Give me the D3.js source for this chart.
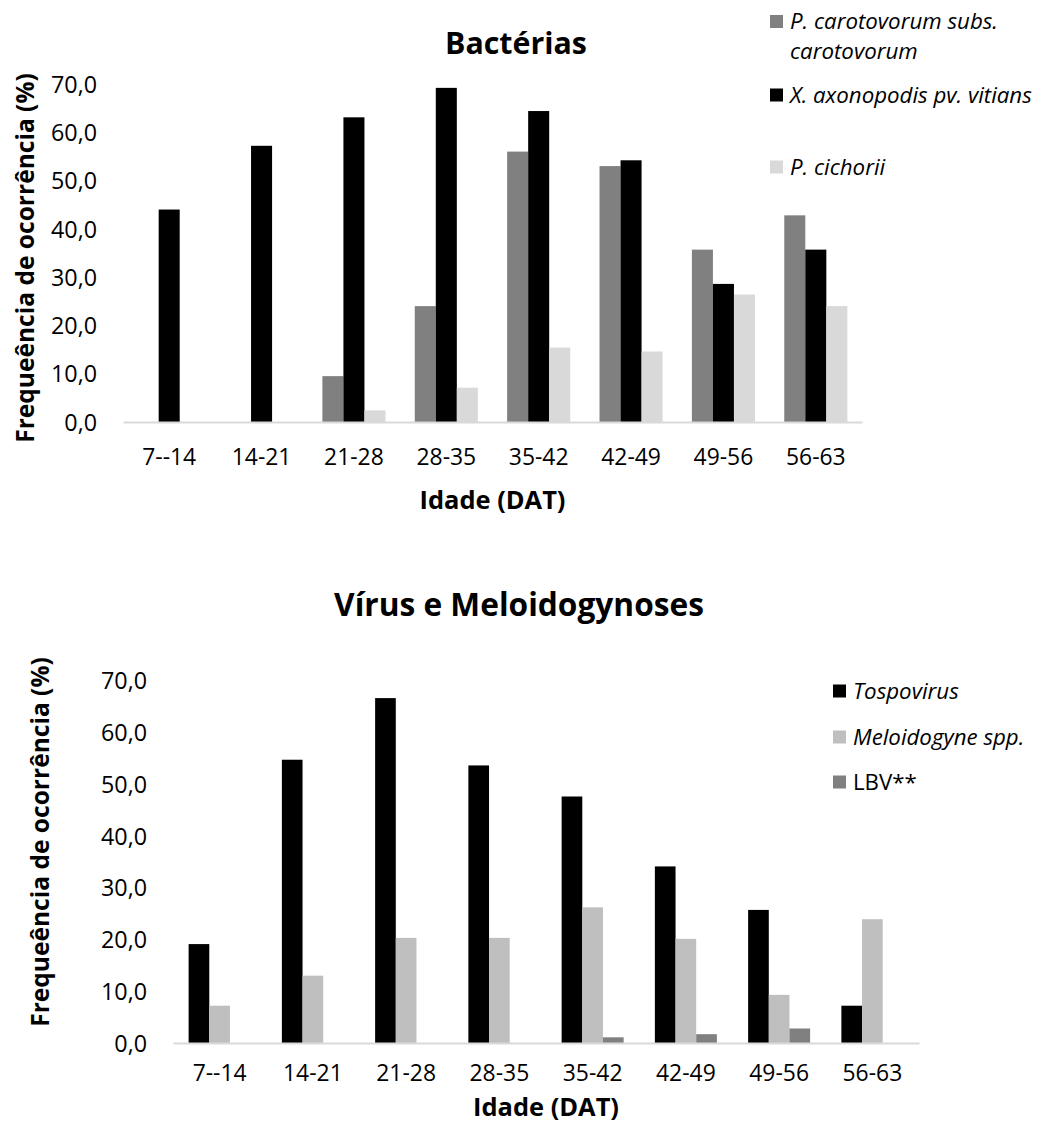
<!DOCTYPE html>
<html>
<head>
<meta charset="utf-8">
<script src="https://cdn.jsdelivr.net/npm/d3@7"></script>
<style>
  html, body { margin: 0; padding: 0; background: #fff; }
  svg { display: block; }
  text { font-family: "Open Sans", "Noto Sans", sans-serif; fill: #000; }
</style>
</head>
<body>
<svg id="chart" width="1042" height="1130"></svg>
<script>
// ---------- data ----------
const categories = ["7--14", "14-21", "21-28", "28-35", "35-42", "42-49", "49-56", "56-63"];
const yTicks = [0, 10, 20, 30, 40, 50, 60, 70];

// Chart 1: Bactérias
const bactSeriesNames = ["P. carotovorum subs. carotovorum", "X. axonopodis pv. vitians", "P. cichorii"];
const pCarotovorum = [0, 0, 9.5, 24.0, 56.0, 53.0, 35.7, 42.8];
const xAxonopodis = [44.0, 57.2, 63.1, 69.2, 64.4, 54.2, 28.6, 35.7];
const pCichorii = [0, 0, 2.4, 7.1, 15.4, 14.6, 26.4, 24.0];

// Chart 2: Vírus e Meloidogynoses
const virSeriesNames = ["Tospovirus", "Meloidogyne spp.", "LBV**"];
const tospovirus = [19.1, 54.7, 66.6, 53.6, 47.6, 34.1, 25.7, 7.2];
const meloidogyne = [7.2, 13.0, 20.3, 20.3, 26.2, 20.1, 9.3, 23.9];
const lbv = [0, 0, 0, 0, 1.1, 1.7, 2.8, 0];

// ---------- helpers ----------
const svg = d3.select("#chart");
const locale = d3.formatLocale({decimal: ",", thousands: ".", grouping: [3], currency: ["R$", ""]});
const fmt = locale.format(".1f");

function fitSize(text, family, weight, style, targetWidth) {
  const t = svg.append("text").attr("font-size", 20).attr("font-weight", weight)
    .attr("font-style", style).style("font-family", family).text(text);
  const w = t.node().getComputedTextLength();
  t.remove();
  return 20 * targetWidth / w;
}
const FAM = '"Open Sans", "Noto Sans", sans-serif';
const tickFS = fitSize("70,0", FAM, 400, "normal", 46);
const catFS = fitSize("7--14", FAM, 400, "normal", 54);
const ytitleFS = fitSize("Frequeência de ocorrência (%)", FAM, 700, "normal", 370);
const xtitleFS = fitSize("Idade (DAT)", FAM, 700, "normal", 146);
const titleFS1 = fitSize("Bactérias", FAM, 700, "normal", 142);
const titleFS2 = fitSize("Vírus e Meloidogynoses", FAM, 700, "normal", 370);
const legFS = fitSize("X. axonopodis pv. vitians", FAM, 400, "italic", 242);

function drawChart(cfg) {
  const g = svg.append("g");
  const x0 = d3.scaleBand().domain(categories).range([cfg.left, cfg.right])
    .paddingInner(cfg.pad).paddingOuter(cfg.pad / 2);
  const x1 = d3.scaleBand().domain(d3.range(cfg.series.length)).range([0, x0.bandwidth()]);
  const y = d3.scaleLinear().domain([0, 70]).range([cfg.zero, cfg.top]);

  // bars
  cfg.series.forEach((vals, si) => {
    g.append("g").selectAll("rect").data(vals).join("rect")
      .attr("x", (d, i) => x0(categories[i]) + x1(si))
      .attr("width", x1.bandwidth())
      .attr("y", d => y(d))
      .attr("height", d => y(0) - y(d))
      .attr("fill", cfg.colors[si]);
  });

  // x axis
  const xa = g.append("g").attr("transform", `translate(0,${cfg.zero})`)
    .call(d3.axisBottom(x0).tickSize(0).tickSizeOuter(0));
  xa.select(".domain").attr("stroke", "#d9d9d9").attr("stroke-width", 2);
  xa.selectAll("text").attr("y", cfg.xLabelOff).attr("dy", "0.35em")
    .attr("font-size", catFS).style("font-family", FAM).attr("fill", "#000");

  // y axis
  const ya = g.append("g").attr("transform", `translate(${cfg.left},0)`)
    .call(d3.axisLeft(y).tickValues(yTicks).tickFormat(fmt).tickSize(0).tickPadding(26));
  ya.select(".domain").remove();
  ya.selectAll("text").attr("dy", "0.35em").attr("font-size", tickFS)
    .style("font-family", FAM).attr("fill", "#000");

  // titles
  g.append("text").attr("x", cfg.titleX).attr("y", cfg.titleY).attr("dy", "0.35em")
    .attr("text-anchor", "middle").attr("font-weight", 700).attr("font-size", cfg.titleFS)
    .text(cfg.title);
  g.append("text").attr("transform", `translate(${cfg.yTitleX},${cfg.yTitleY}) rotate(-90)`)
    .attr("dy", "0.35em").attr("text-anchor", "middle").attr("font-weight", 700)
    .attr("font-size", ytitleFS).text("Frequeência de ocorrência (%)");
  g.append("text").attr("x", (cfg.left + cfg.right) / 2).attr("y", cfg.xTitleY).attr("dy", "0.35em")
    .attr("text-anchor", "middle").attr("font-weight", 700).attr("font-size", xtitleFS)
    .text("Idade (DAT)");

  // legend
  const lg = g.append("g");
  cfg.legend.forEach((item, i) => {
    lg.append("rect").attr("x", cfg.legX).attr("y", item.y - 6.5).attr("width", 13).attr("height", 13)
      .attr("fill", cfg.colors[item.s]);
    item.lines.forEach((ln, j) => {
      lg.append("text").attr("x", cfg.legX + 20).attr("y", item.y + j * 30).attr("dy", "0.35em")
        .attr("font-style", item.italic === false ? "normal" : "italic")
        .attr("font-size", legFS).attr("fill", "#000").text(ln);
    });
  });
}

drawChart({
  left: 123, right: 862, zero: 422, top: 84, pad: 0.317,
  series: [pCarotovorum, xAxonopodis, pCichorii],
  colors: ["#808080", "#000000", "#d9d9d9"],
  xLabelOff: 35,
  title: "Bactérias", titleX: 516, titleY: 43, titleFS: titleFS1,
  yTitleX: 25, yTitleY: 258, xTitleY: 500,
  legX: 770,
  legend: [
    {s: 0, y: 21.5, lines: ["P. carotovorum subs.", "carotovorum"]},
    {s: 1, y: 95, lines: [bactSeriesNames[1]]},
    {s: 2, y: 167, lines: [bactSeriesNames[2]]}
  ]
});

drawChart({
  left: 173, right: 919, zero: 1043, top: 680.5, pad: 0.335,
  series: [tospovirus, meloidogyne, lbv],
  colors: ["#000000", "#bfbfbf", "#808080"],
  xLabelOff: 30,
  title: "Vírus e Meloidogynoses", titleX: 519, titleY: 605, titleFS: titleFS2,
  yTitleX: 40, yTitleY: 842, xTitleY: 1107,
  legX: 833,
  legend: [
    {s: 0, y: 691, lines: [virSeriesNames[0]]},
    {s: 1, y: 737, lines: [virSeriesNames[1]]},
    {s: 2, y: 782, lines: [virSeriesNames[2]], italic: false}
  ]
});
</script>
</body>
</html>
